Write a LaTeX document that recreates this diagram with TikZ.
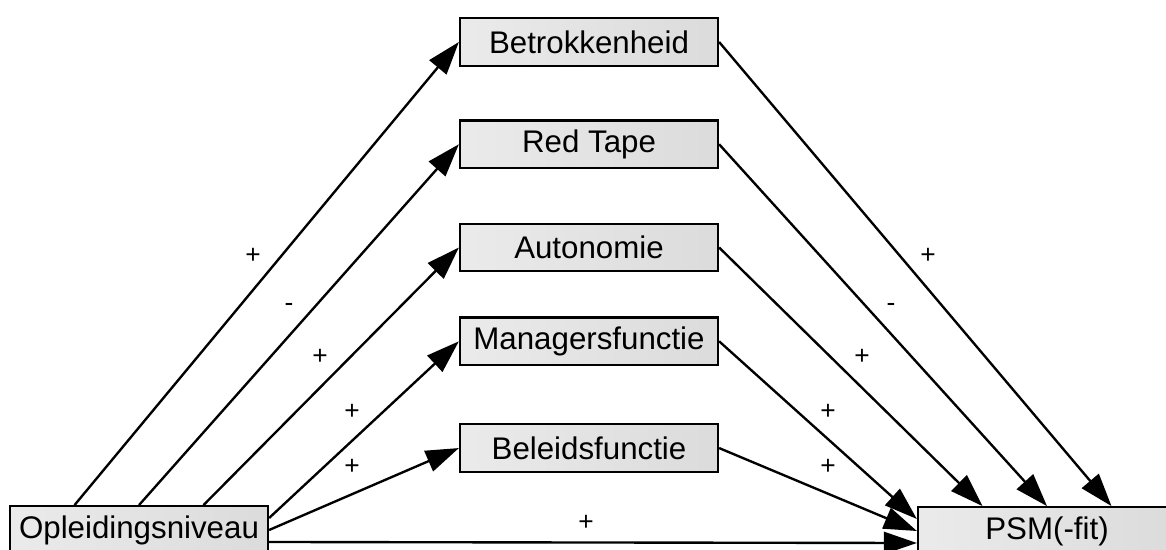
\documentclass[tikz,border=0pt]{standalone}
\usepackage{fontspec}
\setmainfont{Liberation Sans}
\usetikzlibrary{arrows.meta,positioning}

\begin{document}
\begin{tikzpicture}[
        x=0.02cm, y=-0.02cm,
        node distance=1.05cm,
        varbox/.style={draw, line width=1.3pt, left color=black!8, right color=black!14, inner sep=0pt, minimum width=5.16cm, minimum height=0.95cm, font=\fontsize{17.8}{20}\selectfont},
        sign/.style={inner sep=0pt, font=\fontsize{15}{17}\selectfont},
        arr/.style={-{Triangle[length=0.66cm, width=0.44cm]}, line width=1.35pt}
      ]
        \clip (0,0) rectangle (1166,550);
        \node[varbox] (opl) at (139,530) {Opleidingsniveau};
        \node[varbox] (psm) at (1047,531) {PSM(-fit)};
        \node[varbox] (betr) at (589,42) {Betrokkenheid};
        \node[varbox, below=of betr] (red) {Red Tape};
        \node[varbox, below=1.07cm of red] (auto) {Autonomie};
        \node[varbox, below=0.88cm of auto] (mgr) {Managersfunctie};
        \node[varbox, below=1.14cm of mgr] (bel) {Beleidsfunctie};
        % ports
        \coordinate (o1) at ([xshift=-1.29cm]opl.north);
        \coordinate (o2) at (opl.north);
        \coordinate (o3) at ([xshift=1.29cm]opl.north);
        \coordinate (o4) at ([yshift=0.24cm]opl.east);
        \coordinate (o6) at ([yshift=-0.24cm]opl.east);
        \coordinate (p1) at ([xshift=-1.29cm]psm.north);
        \coordinate (p2) at (psm.north);
        \coordinate (p3) at ([xshift=1.29cm]psm.north);
        \coordinate (p4) at ([yshift=0.24cm]psm.west);
        \coordinate (p6) at ([yshift=-0.24cm]psm.west);
        \foreach \a/\b in {o1/betr, o2/red, o3/auto, o4/mgr, opl.east/bel} {
          \draw[arr] (\a) -- (\b.west);
        }
        \foreach \a/\b in {betr/p3, red/p2, auto/p1, mgr/p4, bel/psm.west} {
          \draw[arr] (\a.east) -- (\b);
        }
        \draw[arr] (o6) -- (p6);
        % signs
        \foreach \px/\py/\s [count=\i] in {253/256/+, 289/307/-, 320/357/+, 352/412/+, 352/467/+, 586/523/+,
            928/256/+, 891/307/-, 862/357/+, 828/412/+, 828/467/+} {
          \node[sign] (s\i) at (\px,\py) {\s};
        }
      \end{tikzpicture}
\end{document}
